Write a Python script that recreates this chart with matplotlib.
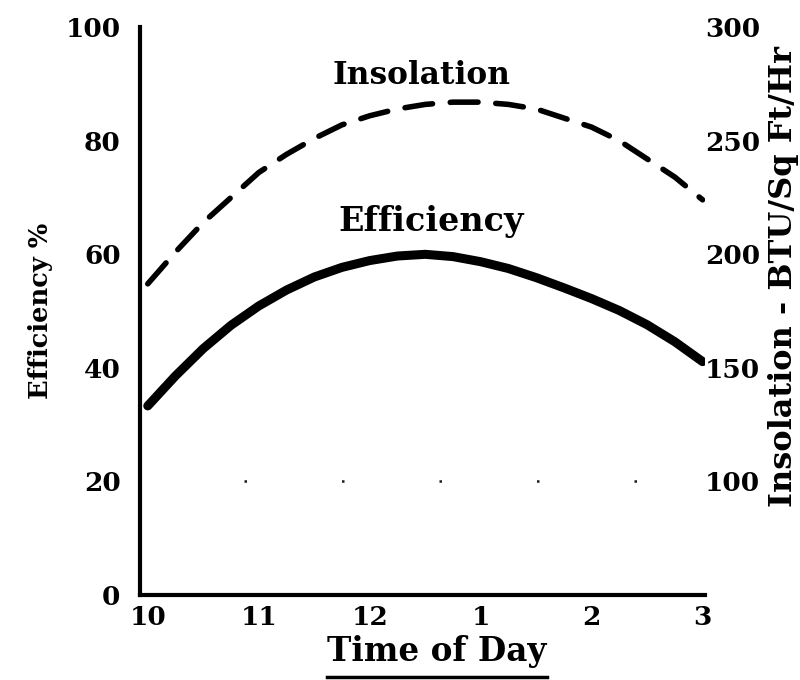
import matplotlib
matplotlib.use("Agg")
import matplotlib.pyplot as plt
from matplotlib.lines import Line2D

# Time of day in hours (24 h clock), quarter-hour readings
hours = [10.0, 10.25, 10.5, 10.75, 11.0, 11.25, 11.5, 11.75, 12.0, 12.25, 12.5,
         12.75, 13.0, 13.25, 13.5, 13.75, 14.0, 14.25, 14.5, 14.75, 15.0]

# Collector efficiency, percent
efficiency = [33.3, 38.6, 43.4, 47.5, 50.9, 53.7, 56.0, 57.7, 58.9, 59.7, 60.0,
              59.6, 58.7, 57.5, 55.9, 54.1, 52.2, 50.1, 47.6, 44.6, 41.1]

# Insolation, BTU per sq ft per hour
insolation = [187, 201, 214, 225, 236, 244, 251, 257, 261, 264, 266,
              267, 267, 266, 264, 260, 256, 250, 242, 234, 224]

hour_ticks = [10, 11, 12, 13, 14, 15]
hour_labels = ["10", "11", "12", "1", "2", "3"]
eff_ticks = [0, 20, 40, 60, 80, 100]
ins_ticks = [100, 150, 200, 250, 300]

FONT = "DejaVu Serif"
plt.rcParams["font.family"] = FONT
plt.rcParams["font.weight"] = "bold"

fig = plt.figure(figsize=(8, 6.8), dpi=100)
ax = fig.add_axes([0.175, 0.125, 0.706, 0.835])

ax.plot(hours, efficiency, color="black", lw=6.5, solid_capstyle="round",
        solid_joinstyle="round")
ax.set_xlim(9.93, 15.02)
ax.set_ylim(0, 100)
ax.set_xticks(hour_ticks)
ax.set_xticklabels(hour_labels)
ax.set_yticks(eff_ticks)
for side in ("top", "right"):
    ax.spines[side].set_visible(False)
for side in ("left", "bottom"):
    ax.spines[side].set_linewidth(3)
ax.tick_params(axis="both", length=0, labelsize=19)
ax.tick_params(axis="y", pad=14)
ax.tick_params(axis="x", pad=7)
for lab in ax.get_xticklabels() + ax.get_yticklabels():
    lab.set_fontweight("bold")

# faint reference line across the chart at 20 %
ax.plot([10.87, 14.95], [20, 20], color="black", lw=1.8,
        linestyle=(0, (1, 38)), alpha=0.9)

ax.set_ylabel("Efficiency %", fontsize=18.5, fontweight="bold", labelpad=9)

# Insolation on a second scale
ax2 = ax.twinx()
ax2.set_ylim(50, 300)
ax2.set_yticks(ins_ticks)
for side in ("top", "right", "left", "bottom"):
    ax2.spines[side].set_visible(False)
ax2.tick_params(axis="y", length=0, pad=0, labelsize=19)
for lab in ax2.get_yticklabels():
    lab.set_fontweight("bold")
line, = ax2.plot(hours, insolation, color="black", lw=4,
                 dash_capstyle="round", dash_joinstyle="round")
line.set_dashes([5, 3.2])
ax2.set_ylabel("Insolation - BTU/Sq Ft/Hr", fontsize=23, fontweight="bold")
ax2.yaxis.set_label_coords(1.112, 0.5616)

ax.text(12.47, 91.5, "Insolation", ha="center", va="center",
        fontsize=22.5, fontweight="bold")
ax.text(12.55, 65.7, "Efficiency", ha="center", va="center",
        fontsize=24, fontweight="bold")

# underlined axis title
t = fig.text(437 / 800, 1 - 651 / 680, "Time of Day", ha="center",
             va="center", fontsize=23.5, fontweight="bold")
fig.canvas.draw()
bb = t.get_window_extent(renderer=fig.canvas.get_renderer())
x0, x1 = bb.x0 / fig.bbox.width, bb.x1 / fig.bbox.width
fig.add_artist(Line2D([x0, x1], [1 - 677 / 680] * 2, transform=fig.transFigure,
                      color="black", lw=2.5))

fig.savefig("out.png", dpi=100)
